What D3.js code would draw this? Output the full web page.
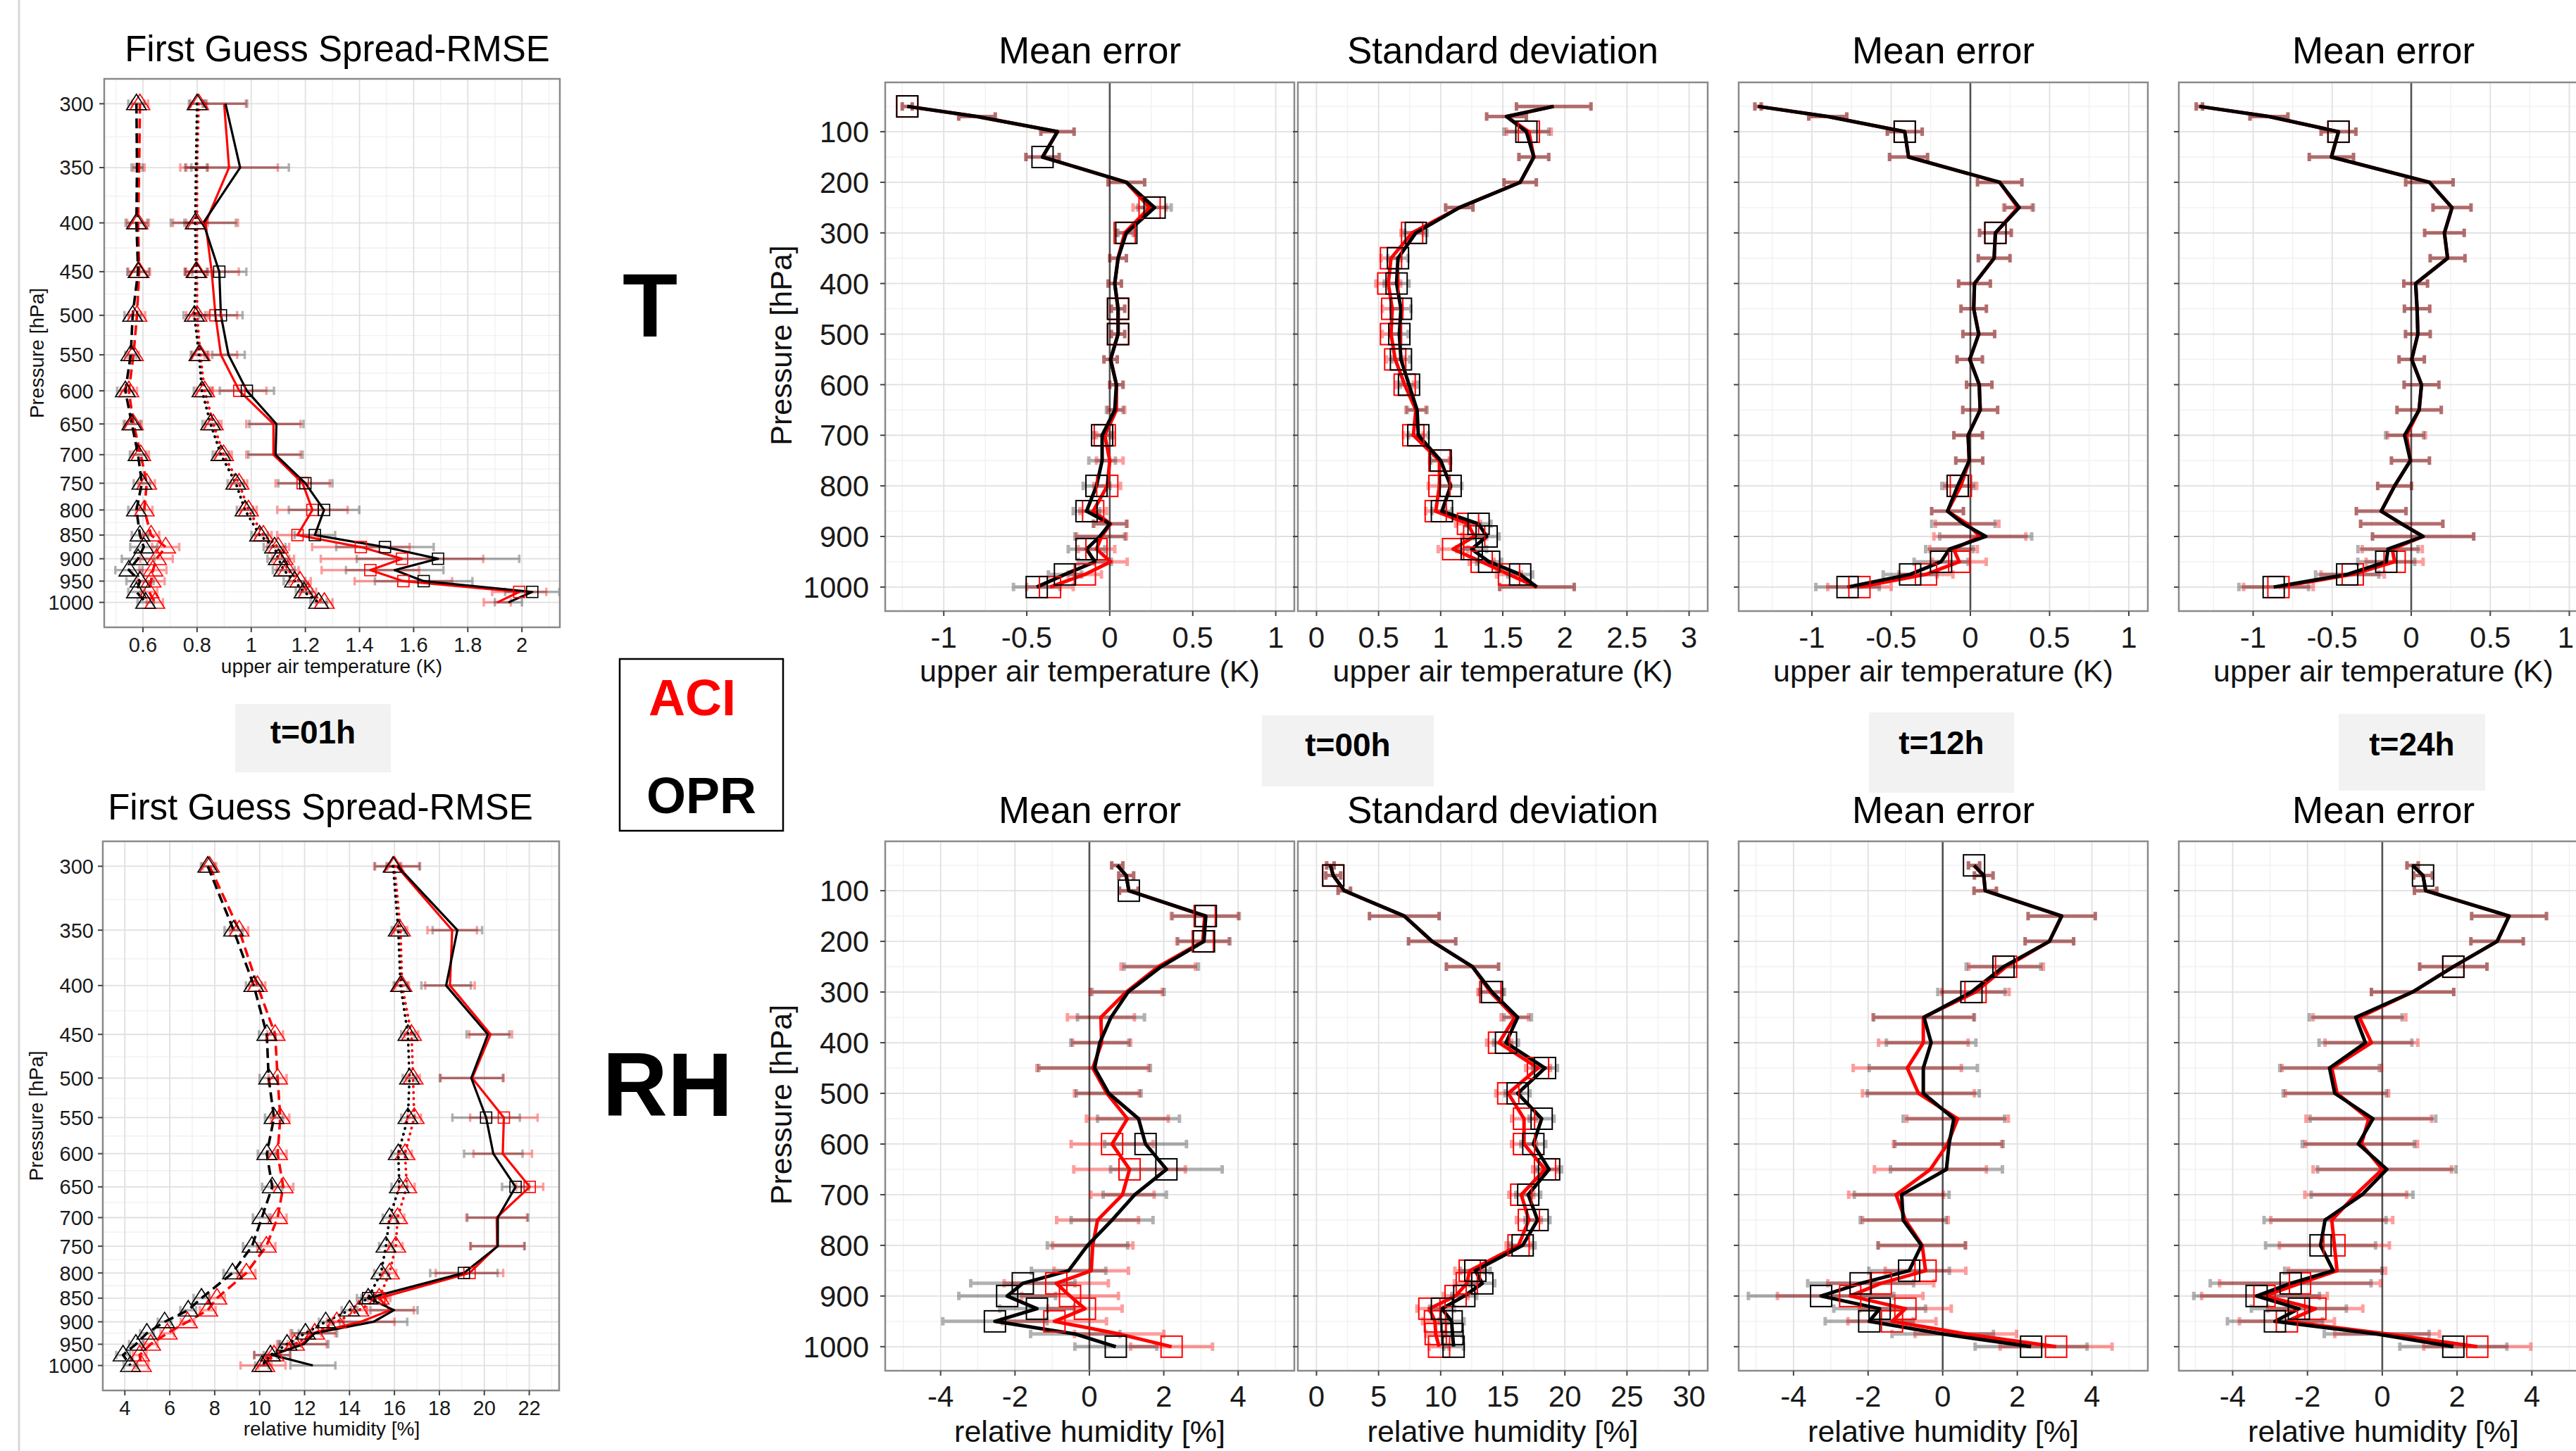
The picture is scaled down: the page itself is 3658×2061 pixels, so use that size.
<!DOCTYPE html>
<html><head><meta charset="utf-8">
<script src="https://cdn.jsdelivr.net/npm/d3@7"></script>
<style>html,body{margin:0;padding:0;background:#fff;}svg{display:block;}</style>
</head><body>
<script>
// ---------------- DATA ----------------
const levelsR = [50,70,100,150,200,250,300,350,400,450,500,550,600,650,700,750,800,850,875,900,925,950,975,1000];
const levelsL = [300,350,400,450,500,550,600,650,700,750,800,850,875,900,925,950,975,1000];
const pTicksR = [100,200,300,400,500,600,700,800,900,1000];
const pMinorR = [50,150,250,350,450,550,650,750,850,950];
const pTicksL = [300,350,400,450,500,550,600,650,700,750,800,850,900,950,1000];
const pMinorL = [325,375,425,475,525,575,625,675,725,775,825,875,925,975];

const tMeTicks = [-1,-0.5,0,0.5,1];
const tMeMinor = [-1.25,-0.75,-0.25,0.25,0.75];
const tSdTicks = [0,0.5,1,1.5,2,2.5,3];
const tSdMinor = [0.25,0.75,1.25,1.75,2.25,2.75];
const rhMeTicks = [-4,-2,0,2,4];
const rhMeMinor = [-5,-3,-1,1,3,5];
const rhSdTicks = [0,5,10,15,20,25,30];
const rhSdMinor = [2.5,7.5,12.5,17.5,22.5,27.5];
const tLTicks = [0.6,0.8,1,1.2,1.4,1.6,1.8,2];
const tLMinor = [0.5,0.7,0.9,1.1,1.3,1.5,1.7,1.9,2.1];
const rhLTicks = [4,6,8,10,12,14,16,18,20,22];
const rhLMinor = [3,5,7,9,11,13,15,17,19,21,23];

// T mean error t=00h
const tMe00Opr = [-1.22,-0.80,-0.315,-0.405,0.10,0.27,0.10,0.05,0.03,0.05,0.05,0.005,0.04,0.03,-0.046,-0.046,-0.08,-0.14,0.0,-0.06,-0.14,-0.09,-0.27,-0.44];
const tMe00Aci = [-1.22,-0.80,-0.315,-0.405,0.10,0.24,0.09,0.05,0.03,0.05,0.05,0.005,0.04,0.04,-0.03,0.0,-0.015,-0.10,0.005,-0.05,-0.08,0.005,-0.15,-0.36];
const tMe00Err = [0.03,0.11,0.10,0.10,0.11,0.10,0.05,0.05,0.04,0.04,0.04,0.04,0.04,0.05,0.05,0.08,0.08,0.08,0.10,0.15,0.11,0.10,0.10,0.14];
const tMe00SqOpr = [50,150,250,300,450,500,700,800,850,925,975,1000];
const tMe00SqAci = [50,250,300,450,500,700,800,850,925,975,1000];
// T standard deviation t=00h
const tSd00Opr = [1.91,1.53,1.69,1.75,1.64,1.15,0.80,0.656,0.645,0.68,0.667,0.68,0.745,0.81,0.82,1.00,1.08,1.01,1.305,1.37,1.25,1.39,1.64,1.775];
const tSd00Aci = [1.91,1.53,1.71,1.75,1.64,1.15,0.77,0.60,0.578,0.61,0.60,0.634,0.71,0.80,0.78,0.99,0.99,0.96,1.22,1.27,1.10,1.33,1.55,1.775];
const tSd00Err = [0.30,0.16,0.18,0.12,0.13,0.11,0.09,0.08,0.10,0.08,0.07,0.07,0.07,0.08,0.08,0.08,0.09,0.08,0.10,0.10,0.12,0.10,0.10,0.30];
const tSd00SqOpr = [100,300,350,400,450,500,550,600,700,750,800,850,875,900,925,950,975];
const tSd00SqAci = [100,300,350,400,450,500,550,600,700,750,800,850,875,900,925,950,975];
// T mean error t=12h
const tMe12Opr = [-1.34,-0.90,-0.414,-0.39,0.185,0.308,0.158,0.15,0.026,0.021,0.053,-0.004,0.056,0.062,-0.014,-0.007,-0.08,-0.144,-0.044,0.097,-0.132,-0.185,-0.38,-0.775];
const tMe12Aci = [-1.34,-0.90,-0.414,-0.39,0.185,0.30,0.158,0.15,0.026,0.021,0.053,-0.004,0.056,0.062,-0.014,-0.007,-0.06,-0.144,-0.02,0.06,-0.106,-0.07,-0.28,-0.70];
const tMe12Err = [0.02,0.12,0.11,0.12,0.14,0.09,0.10,0.10,0.10,0.08,0.10,0.08,0.08,0.11,0.09,0.085,0.10,0.10,0.20,0.29,0.15,0.17,0.17,0.20];
const tMe12SqOpr = [100,300,800,950,975,1000];
const tMe12SqAci = [100,300,800,950,975,1000];
// T mean error t=24h
const tMe24Opr = [-1.34,-0.90,-0.46,-0.505,0.115,0.258,0.21,0.23,0.028,0.037,0.042,0.003,0.065,0.05,-0.042,-0.005,-0.105,-0.19,-0.06,0.075,-0.147,-0.158,-0.405,-0.87];
const tMe24Aci = [-1.34,-0.90,-0.46,-0.505,0.115,0.258,0.21,0.23,0.028,0.037,0.042,0.003,0.065,0.05,-0.03,-0.005,-0.105,-0.19,-0.06,0.075,-0.12,-0.105,-0.37,-0.84];
const tMe24Err = [0.02,0.12,0.11,0.14,0.15,0.12,0.125,0.11,0.075,0.08,0.078,0.08,0.11,0.14,0.12,0.12,0.107,0.157,0.26,0.32,0.19,0.18,0.20,0.22];
const tMe24SqOpr = [100,950,975,1000];
const tMe24SqAci = [100,950,975,1000];
// RH mean error t=00h
const rhMe00Opr = [0.75,0.99,1.06,3.13,3.08,1.93,1.04,0.58,0.28,0.14,0.52,1.32,1.51,2.07,1.22,0.61,-0.05,-0.56,-1.79,-2.21,-1.41,-2.54,-0.38,0.71];
const rhMe00Aci = [0.75,0.99,1.06,3.10,3.05,1.85,0.99,0.31,0.33,0.09,0.47,1.02,0.61,1.08,0.89,0.22,0.09,0.05,-0.89,-0.52,-0.12,-0.94,0.80,2.21];
const rhMe00Err = [0.15,0.20,0.25,0.90,0.70,1.00,0.97,0.90,0.78,1.50,0.87,1.10,1.10,1.50,0.85,1.10,1.08,1.00,1.40,1.30,1.00,1.40,1.20,1.10];
const rhMe00SqOpr = [100,150,200,600,650,875,900,925,950,1000];
const rhMe00SqAci = [150,200,600,650,875,900,925,950,1000];
// RH standard deviation t=00h
const rhSd00Opr = [1.12,1.35,2.24,7.07,9.31,12.56,14.13,16.2,15.26,18.4,16.2,18.13,17.46,18.73,17.05,17.8,16.6,12.79,13.35,11.9,10.1,10.88,10.95,11.04];
const rhSd00Aci = [1.12,1.35,2.24,7.07,9.31,12.56,14.0,15.97,14.7,17.84,15.44,16.71,16.71,18.4,16.49,17.1,16.27,12.34,12.1,11.2,9.09,9.54,9.6,9.87];
const rhSd00Err = [0.3,0.6,0.5,2.8,1.9,2.1,1.0,1.1,1.0,1.0,1.0,1.0,1.0,1.0,1.0,1.0,1.0,1.2,1.0,1.0,1.0,1.0,0.8,0.8];
const rhSd00SqOpr = [70,300,400,450,500,550,600,650,700,750,800,850,875,900,925,950,975,1000];
const rhSd00SqAci = [70,300,400,450,500,550,600,650,700,750,800,850,875,900,925,950,975,1000];
// RH mean error t=12h
const rhMe12Opr = [0.84,1.10,1.14,3.19,2.86,1.63,0.77,-0.50,-0.31,-0.52,-0.52,0.30,0.17,0.10,-1.10,-1.06,-0.57,-0.90,-2.20,-3.26,-1.69,-1.97,0.0,2.37];
const rhMe12Aci = [0.84,1.10,1.14,3.19,2.86,1.70,0.88,-0.52,-0.52,-0.95,-0.65,0.40,0.13,-0.33,-1.25,-1.00,-0.55,-0.46,-1.66,-2.48,-1.00,-1.36,0.62,3.04];
const rhMe12Err = [0.15,0.25,0.30,0.90,0.65,1.00,0.90,1.35,1.20,1.45,1.50,1.36,1.45,1.50,1.27,1.15,1.17,1.08,1.42,1.95,1.23,1.18,1.36,1.50];
const rhMe12SqOpr = [50,250,300,850,875,900,925,950,1000];
const rhMe12SqAci = [250,300,850,875,900,925,950,1000];
// RH mean error t=24h
const rhMe24Opr = [0.81,1.09,1.16,3.39,3.07,1.90,0.81,-0.71,-0.45,-1.41,-1.27,-0.25,-0.64,0.12,-0.54,-1.53,-1.65,-1.31,-2.45,-3.36,-2.23,-2.87,-0.15,1.90];
const rhMe24Aci = [0.81,1.09,1.16,3.39,3.07,1.90,0.81,-0.61,-0.29,-1.35,-1.21,-0.36,-0.56,0.0,-0.71,-1.35,-1.28,-1.21,-2.20,-3.15,-1.79,-2.55,0.13,2.54];
const rhMe24Err = [0.15,0.25,0.30,1.00,0.70,0.90,1.10,1.24,1.24,1.33,1.38,1.68,1.50,1.85,1.36,1.63,1.47,1.30,2.15,1.68,1.27,1.27,1.40,1.43];
const rhMe24SqOpr = [70,250,800,875,900,925,950,1000];
const rhMe24SqAci = [250,800,875,900,925,950,1000];

// First guess spread-RMSE, T (t=01h)
const tLDashOpr = [0.576,0.578,0.576,0.582,0.562,0.555,0.535,0.559,0.582,0.596,0.576,0.589,0.603,0.582,0.548,0.589,0.576,0.610];
const tLDashAci = [0.589,0.586,0.582,0.586,0.578,0.565,0.548,0.565,0.592,0.614,0.605,0.630,0.684,0.650,0.637,0.630,0.623,0.644];
const tLDashErr = [0.03,0.02,0.04,0.04,0.03,0.02,0.03,0.03,0.03,0.03,0.03,0.03,0.05,0.06,0.05,0.05,0.03,0.03];
const tLDotOpr = [0.800,0.796,0.793,0.796,0.790,0.807,0.818,0.850,0.888,0.943,0.977,1.031,1.086,1.100,1.120,1.160,1.195,1.249];
const tLDotAci = [0.806,0.800,0.800,0.800,0.800,0.812,0.828,0.860,0.898,0.955,0.990,1.045,1.100,1.118,1.135,1.180,1.210,1.270];
const tLDotErr = [0.03,0.04,0.04,0.04,0.04,0.03,0.03,0.03,0.03,0.03,0.03,0.03,0.04,0.04,0.04,0.04,0.03,0.03];
const tLSolOpr = [0.905,0.959,0.823,0.882,0.888,0.916,0.984,1.093,1.090,1.200,1.269,1.235,1.494,1.690,1.530,1.637,2.038,1.950];
const tLSolAci = [0.900,0.918,0.831,0.854,0.868,0.888,0.956,1.082,1.082,1.190,1.226,1.171,1.405,1.557,1.440,1.562,1.990,1.909];
const tLSolErr = [0.08,0.18,0.12,0.10,0.08,0.06,0.10,0.10,0.10,0.10,0.13,0.075,0.18,0.30,0.18,0.18,0.10,0.05];
const tLTriLevels = [300,400,450,500,550,600,650,700,750,800,850,875,900,925,950,975,1000];
const tLSqOpr = [450,500,600,750,800,850,875,900,950,975];
const tLSqAci = [500,600,750,800,850,875,900,925,950,975];
// First guess spread-RMSE, RH (t=01h)
const rhLDashOpr = [7.69,8.84,9.74,10.32,10.40,10.64,10.32,10.56,10.10,9.66,8.79,7.41,6.82,5.77,4.98,4.49,3.92,4.25];
const rhLDashAci = [7.77,9.09,9.90,10.69,10.80,10.92,10.80,11.05,10.80,10.30,9.41,8.10,7.69,6.79,5.89,5.15,4.66,4.74];
const rhLDashErr = [0.30,0.40,0.35,0.35,0.40,0.40,0.40,0.45,0.40,0.40,0.40,0.35,0.35,0.30,0.30,0.30,0.30,0.30];
const rhLDotOpr = [15.94,16.17,16.27,16.60,16.67,16.60,16.17,16.22,15.78,15.62,15.40,14.83,14.00,12.94,12.04,11.22,10.48,10.10];
const rhLDotAci = [16.00,16.27,16.34,16.76,16.83,16.88,16.47,16.55,16.14,16.06,15.78,15.32,14.42,13.43,12.45,11.55,10.64,10.23];
const rhLDotErr = [0.30,0.30,0.30,0.30,0.30,0.30,0.30,0.35,0.30,0.30,0.30,0.30,0.35,0.30,0.30,0.30,0.30,0.30];
const rhLSolOpr = [16.14,18.80,18.30,20.16,19.42,20.08,20.40,21.39,20.60,20.60,19.09,14.83,15.98,15.07,12.45,11.96,10.56,12.37];
const rhLSolAci = [16.10,18.57,18.47,20.28,19.46,20.87,20.82,22.02,20.55,20.57,19.34,15.32,15.81,14.50,12.37,11.88,10.56,10.15];
const rhLSolErr = [1.00,1.10,1.10,0.95,1.40,1.50,1.30,0.60,1.35,1.20,1.50,0.50,1.05,1.50,1.00,1.10,0.80,1.00];
const rhLTriLevels = levelsL;
const rhLSqOpr = [550,650,800,850];
const rhLSqAci = [550,650,800,850];

// ---------------- DRAWING ----------------
const W = 3658, H = 2061;
const FONT = '"Liberation Sans", Arial, Helvetica, sans-serif';
const RED = '#ff0000', BLK = '#000000';
const svg = d3.select('body').append('svg').attr('width', W).attr('height', H)
  .style('font-family', FONT);
svg.append('rect').attr('width', W).attr('height', H).attr('fill', '#fff');
svg.append('line').attr('x1', 27).attr('x2', 27).attr('y1', 0).attr('y2', H)
  .attr('stroke', '#d8d8d8').attr('stroke-width', 3);

function panel(o) {
  const g = svg.append('g');
  const x = d3.scaleLinear().domain(o.xDomain).range([o.left, o.right]);
  const y = (o.log ? d3.scaleLog() : d3.scaleLinear()).domain(o.yDomain).range([o.top, o.bottom]);
  g.append('rect').attr('x', o.left).attr('y', o.top).attr('width', o.right - o.left)
    .attr('height', o.bottom - o.top).attr('fill', '#fff');
  const vline = (vals, col, w) => g.selectAll(null).data(vals).join('line')
    .attr('x1', d => x(d)).attr('x2', d => x(d)).attr('y1', o.top).attr('y2', o.bottom)
    .attr('stroke', col).attr('stroke-width', w);
  const hline = (vals, col, w) => g.selectAll(null).data(vals).join('line')
    .attr('y1', d => y(d)).attr('y2', d => y(d)).attr('x1', o.left).attr('x2', o.right)
    .attr('stroke', col).attr('stroke-width', w);
  vline(o.xMinor, '#f0f0f0', 1.3); hline(o.yMinor, '#f0f0f0', 1.3);
  vline(o.xTicks, '#e0e0e0', 1.8); hline(o.yTicks, '#e0e0e0', 1.8);
  if (o.zero) vline([0], '#505050', 2.6);

  const S = o.small;
  const capH = 6;
  const ebW = S ? 3.5 : 5;
  // error bars
  o.series.forEach(s => {
    const op = s.color === RED ? 0.38 : 0.3;
    s.vals.forEach((v, i) => {
      const e = s.err[i], yy = y(o.levels[i]), xa = x(v - e), xb = x(v + e);
      g.append('path')
        .attr('d', `M${xa},${yy}H${xb}M${xa},${yy - capH}V${yy + capH}M${xb},${yy - capH}V${yy + capH}`)
        .attr('stroke', s.color).attr('stroke-opacity', op).attr('stroke-width', ebW).attr('fill', 'none');
    });
  });
  // lines
  const ln = d3.line();
  o.series.forEach(s => {
    g.append('path').attr('d', ln(s.vals.map((v, i) => [x(v), y(o.levels[i])])))
      .attr('fill', 'none').attr('stroke', s.color)
      .attr('stroke-width', s.dash === 'dot' ? 3.8 : (S ? (s.dash ? 3.6 : 3.2) : 5))
      .attr('stroke-linejoin', 'round')
      .attr('stroke-linecap', s.dash === 'dot' ? 'round' : 'butt')
      .attr('stroke-dasharray', s.dash === 'dash' ? '14,7' : (s.dash === 'dot' ? '0.5,8' : null));
  });
  // markers
  o.series.forEach(s => {
    if (s.tri) {
      const tw = 28, th = 22;
      s.tri.forEach(p => {
        const i = o.levels.indexOf(p); if (i < 0) return;
        const cx = x(s.vals[i]), cy = y(p);
        g.append('path').attr('d', `M${cx},${cy - th * 0.62}L${cx + tw / 2},${cy + th * 0.38}L${cx - tw / 2},${cy + th * 0.38}Z`)
          .attr('fill', 'none').attr('stroke', s.color).attr('stroke-width', 1.6);
      });
    }
    if (s.sq) {
      const sz = S ? 16 : 30;
      s.sq.forEach(p => {
        const i = o.levels.indexOf(p); if (i < 0) return;
        g.append('rect').attr('x', x(s.vals[i]) - sz / 2).attr('y', y(p) - sz / 2)
          .attr('width', sz).attr('height', sz).attr('fill', 'none')
          .attr('stroke', s.color).attr('stroke-width', S ? 1.6 : 2);
      });
    }
  });
  // border
  g.append('rect').attr('x', o.left).attr('y', o.top).attr('width', o.right - o.left)
    .attr('height', o.bottom - o.top).attr('fill', 'none').attr('stroke', '#8a8a8a').attr('stroke-width', 2.5);
  // ticks
  const tk = 7;
  g.selectAll(null).data(o.xTicks).join('line')
    .attr('x1', d => x(d)).attr('x2', d => x(d)).attr('y1', o.bottom).attr('y2', o.bottom + tk)
    .attr('stroke', '#444').attr('stroke-width', 2);
  g.selectAll(null).data(o.xTicks).join('text')
    .attr('x', d => {
      const half = String(d).length * 0.556 * o.tickSize / 2;
      return Math.min(x(d), W - 3 - half);
    })
    .attr('y', o.tickY).attr('text-anchor', 'middle')
    .attr('font-size', o.tickSize).attr('fill', '#1a1a1a').text(d => String(d));
  g.selectAll(null).data(o.yTicks).join('line')
    .attr('x1', o.left - tk).attr('x2', o.left).attr('y1', d => y(d)).attr('y2', d => y(d))
    .attr('stroke', '#444').attr('stroke-width', 2);
  if (o.yLabels) {
    g.selectAll(null).data(o.yTicks).join('text')
      .attr('x', o.yLabX).attr('y', d => y(d)).attr('dy', '0.36em').attr('text-anchor', 'end')
      .attr('font-size', o.tickSize).attr('fill', '#1a1a1a').text(d => String(d));
    g.append('text').attr('transform', `translate(${o.yTitleX},${(o.top + o.bottom) / 2 + (o.yTitleDy || 0)}) rotate(-90)`)
      .attr('text-anchor', 'middle').attr('font-size', o.yTitleSize).attr('fill', '#111').text('Pressure [hPa]');
  }
  g.append('text').attr('x', o.titleX !== undefined ? o.titleX : (o.left + o.right) / 2).attr('y', o.titleY)
    .attr('text-anchor', 'middle').attr('font-size', o.titleSize).attr('fill', '#000').text(o.title);
  g.append('text').attr('x', o.xLabX !== undefined ? o.xLabX : (o.left + o.right) / 2).attr('y', o.xLabY)
    .attr('text-anchor', 'middle').attr('font-size', o.xLabSize).attr('fill', '#111').text(o.xLabel);
  return g;
}

// ---- Left panels ----
const logDom = [282.5, 1062];
panel({
  left: 148, right: 795, top: 112, bottom: 891, log: true, yDomain: logDom,
  xDomain: [0.457, 2.140], xTicks: tLTicks, xMinor: tLMinor, yTicks: pTicksL, yMinor: pMinorL,
  levels: levelsL, small: true, zero: false, yLabels: true, yLabX: 133, tickSize: 29, tickY: 926,
  yTitleX: 62, yTitleSize: 28, title: 'First Guess Spread-RMSE', titleX: 479, titleY: 87, titleSize: 51,
  xLabel: 'upper air temperature (K)', xLabX: 471, xLabY: 956, xLabSize: 28,
  series: [
    {vals: tLDashAci, err: tLDashErr, color: RED, dash: 'dash', tri: tLTriLevels},
    {vals: tLDotAci, err: tLDotErr, color: RED, dash: 'dot', tri: tLTriLevels},
    {vals: tLSolAci, err: tLSolErr, color: RED, sq: tLSqAci},
    {vals: tLDashOpr, err: tLDashErr, color: BLK, dash: 'dash', tri: tLTriLevels},
    {vals: tLDotOpr, err: tLDotErr, color: BLK, dash: 'dot', tri: tLTriLevels},
    {vals: tLSolOpr, err: tLSolErr, color: BLK, sq: tLSqOpr}
  ]
});
panel({
  left: 146, right: 794, top: 1195, bottom: 1975, log: true, yDomain: logDom,
  xDomain: [3.02, 23.33], xTicks: rhLTicks, xMinor: rhLMinor, yTicks: pTicksL, yMinor: pMinorL,
  levels: levelsL, small: true, zero: false, yLabels: true, yLabX: 133, tickSize: 29, tickY: 2010,
  yTitleX: 61, yTitleSize: 28, title: 'First Guess Spread-RMSE', titleX: 455, titleY: 1164, titleSize: 51,
  xLabel: 'relative humidity [%]', xLabX: 471, xLabY: 2039, xLabSize: 28,
  series: [
    {vals: rhLDashAci, err: rhLDashErr, color: RED, dash: 'dash', tri: rhLTriLevels},
    {vals: rhLDotAci, err: rhLDotErr, color: RED, dash: 'dot', tri: rhLTriLevels},
    {vals: rhLSolAci, err: rhLSolErr, color: RED, sq: rhLSqAci},
    {vals: rhLDashOpr, err: rhLDashErr, color: BLK, dash: 'dash', tri: rhLTriLevels},
    {vals: rhLDotOpr, err: rhLDotErr, color: BLK, dash: 'dot', tri: rhLTriLevels},
    {vals: rhLSolOpr, err: rhLSolErr, color: BLK, sq: rhLSqOpr}
  ]
});

// ---- Right panels ----
const cols = [{l: 1257, r: 1838}, {l: 1843, r: 2425}, {l: 2469, r: 3050}, {l: 3094, r: 3675}];
const rows = [
  {t: 117, b: 868, titleY: 90, tickY: 920, labY: 968, xLabel: 'upper air temperature (K)'},
  {t: 1195, b: 1947, titleY: 1169, tickY: 1998, labY: 2048, xLabel: 'relative humidity [%]'}
];
const rightPanels = [
  [
    {title: 'Mean error', xDomain: [-1.353, 1.112], xt: tMeTicks, xm: tMeMinor, zero: true, o: tMe00Opr, a: tMe00Aci, e: tMe00Err, so: tMe00SqOpr, sa: tMe00SqAci},
    {title: 'Standard deviation', xDomain: [-0.15, 3.15], xt: tSdTicks, xm: tSdMinor, zero: false, o: tSd00Opr, a: tSd00Aci, e: tSd00Err, so: tSd00SqOpr, sa: tSd00SqAci},
    {title: 'Mean error', xDomain: [-1.462, 1.12], xt: tMeTicks, xm: tMeMinor, zero: true, o: tMe12Opr, a: tMe12Aci, e: tMe12Err, so: tMe12SqOpr, sa: tMe12SqAci},
    {title: 'Mean error', xDomain: [-1.47, 1.118], xt: tMeTicks, xm: tMeMinor, zero: true, o: tMe24Opr, a: tMe24Aci, e: tMe24Err, so: tMe24SqOpr, sa: tMe24SqAci}
  ],
  [
    {title: 'Mean error', xDomain: [-5.49, 5.51], xt: rhMeTicks, xm: rhMeMinor, zero: true, o: rhMe00Opr, a: rhMe00Aci, e: rhMe00Err, so: rhMe00SqOpr, sa: rhMe00SqAci},
    {title: 'Standard deviation', xDomain: [-1.5, 31.5], xt: rhSdTicks, xm: rhSdMinor, zero: false, o: rhSd00Opr, a: rhSd00Aci, e: rhSd00Err, so: rhSd00SqOpr, sa: rhSd00SqAci},
    {title: 'Mean error', xDomain: [-5.47, 5.5], xt: rhMeTicks, xm: rhMeMinor, zero: true, o: rhMe12Opr, a: rhMe12Aci, e: rhMe12Err, so: rhMe12SqOpr, sa: rhMe12SqAci},
    {title: 'Mean error', xDomain: [-5.44, 5.5], xt: rhMeTicks, xm: rhMeMinor, zero: true, o: rhMe24Opr, a: rhMe24Aci, e: rhMe24Err, so: rhMe24SqOpr, sa: rhMe24SqAci}
  ]
];
rightPanels.forEach((row, ri) => {
  const R = rows[ri];
  row.forEach((p, ci) => {
    const C = cols[ci];
    panel({
      left: C.l, right: C.r, top: R.t, bottom: R.b, log: false, yDomain: [2.5, 1047.5],
      xDomain: p.xDomain, xTicks: p.xt, xMinor: p.xm, yTicks: pTicksR, yMinor: pMinorR,
      levels: levelsR, small: false, zero: p.zero, yLabels: ci === 0, yLabX: 1234, tickSize: 42, tickY: R.tickY,
      yTitleX: 1124, yTitleSize: 43, yTitleDy: -2,
      title: p.title, titleY: R.titleY, titleSize: 53,
      xLabel: R.xLabel, xLabY: R.labY, xLabSize: 43,
      series: [
        {vals: p.a, err: p.e, color: RED, sq: p.sa},
        {vals: p.o, err: p.e, color: BLK, sq: p.so}
      ]
    });
  });
});

// ---- Annotations ----
svg.append('text').attr('x', 923).attr('y', 478).attr('text-anchor', 'middle')
  .attr('font-size', 128).attr('font-weight', 'bold').attr('fill', '#000').text('T');
svg.append('text').attr('x', 948).attr('y', 1585).attr('text-anchor', 'middle')
  .attr('font-size', 128).attr('font-weight', 'bold').attr('fill', '#000').text('RH');
svg.append('rect').attr('x', 880).attr('y', 936).attr('width', 232).attr('height', 244)
  .attr('fill', '#fff').attr('stroke', '#000').attr('stroke-width', 2.5);
svg.append('text').attr('x', 983).attr('y', 1016).attr('text-anchor', 'middle')
  .attr('font-size', 72).attr('font-weight', 'bold').attr('fill', RED).text('ACI');
svg.append('text').attr('x', 996).attr('y', 1155).attr('text-anchor', 'middle')
  .attr('font-size', 72).attr('font-weight', 'bold').attr('fill', '#000').text('OPR');

const tLabels = [
  {text: 't=01h', x0: 334, x1: 555, y0: 1000, y1: 1097, ty: 1056},
  {text: 't=00h', x0: 1792, x1: 2036, y0: 1016, y1: 1117, ty: 1074},
  {text: 't=12h', x0: 2654, x1: 2860, y0: 1012, y1: 1126, ty: 1071},
  {text: 't=24h', x0: 3321, x1: 3529, y0: 1014, y1: 1123, ty: 1073}
];
tLabels.forEach(t => {
  svg.append('rect').attr('x', t.x0).attr('y', t.y0).attr('width', t.x1 - t.x0).attr('height', t.y1 - t.y0)
    .attr('fill', '#f2f2f2');
  svg.append('text').attr('x', (t.x0 + t.x1) / 2).attr('y', t.ty).attr('text-anchor', 'middle')
    .attr('font-size', 46).attr('font-weight', 'bold').attr('fill', '#000').text(t.text);
});
</script>
</body></html>
